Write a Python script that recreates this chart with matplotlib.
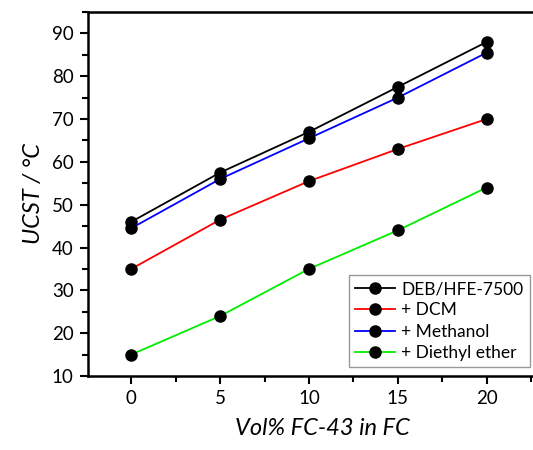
import matplotlib
matplotlib.use('Agg')
import matplotlib.pyplot as plt
from matplotlib.ticker import MultipleLocator

plt.rcParams['font.family'] = ['Lato', 'DejaVu Sans']

vol_fc43 = [0, 5, 10, 15, 20]
deb_hfe = [46, 57.5, 67, 77.5, 88]
dcm = [35, 46.5, 55.5, 63, 70]
methanol = [44.5, 56, 65.5, 75, 85.5]
diethyl = [15, 24, 35, 44, 54]

labels = ['DEB/HFE-7500', '+ DCM', '+ Methanol', '+ Diethyl ether']
colors = ['black', 'red', 'blue', '#00ee00']

fig = plt.figure(figsize=(5.33, 4.5), dpi=100)
ax = fig.add_axes([87.7 / 533, (450 - 376) / 450, 470 / 533, 364 / 450])

for y, lab, c in zip([deb_hfe, dcm, methanol, diethyl], labels, colors):
    ax.plot(vol_fc43, y, color=c, lw=1.3, marker='o', ms=8,
            mfc='black', mec='black', label=lab)

ax.set_xlim(-2.45, 24.0)
ax.set_ylim(10, 95)
ax.xaxis.set_major_locator(MultipleLocator(5))
ax.xaxis.set_minor_locator(MultipleLocator(2.5))
ax.yaxis.set_major_locator(MultipleLocator(10))
ax.yaxis.set_minor_locator(MultipleLocator(5))
ax.tick_params(which='major', length=6, width=1.5, labelsize=13.5, direction='out', pad=4)
ax.tick_params(which='minor', length=4, width=1.5, direction='out')
for s in ax.spines.values():
    s.set_linewidth(1.8)

ax.set_xlabel('Vol% FC-43 in FC', fontsize=17, style='italic', labelpad=8)
ax.set_ylabel('UCST / °C', fontsize=17, style='italic', labelpad=6)

leg = ax.legend(loc='lower right', bbox_to_anchor=(442 / 470, 0.025), fontsize=12.5,
                fancybox=False, edgecolor='#999999', framealpha=1,
                handlelength=2.3, handletextpad=0.4, borderpad=0.35, labelspacing=0.3,
                borderaxespad=0)
leg.get_frame().set_linewidth(1.0)

fig.savefig('out.png', dpi=100)
